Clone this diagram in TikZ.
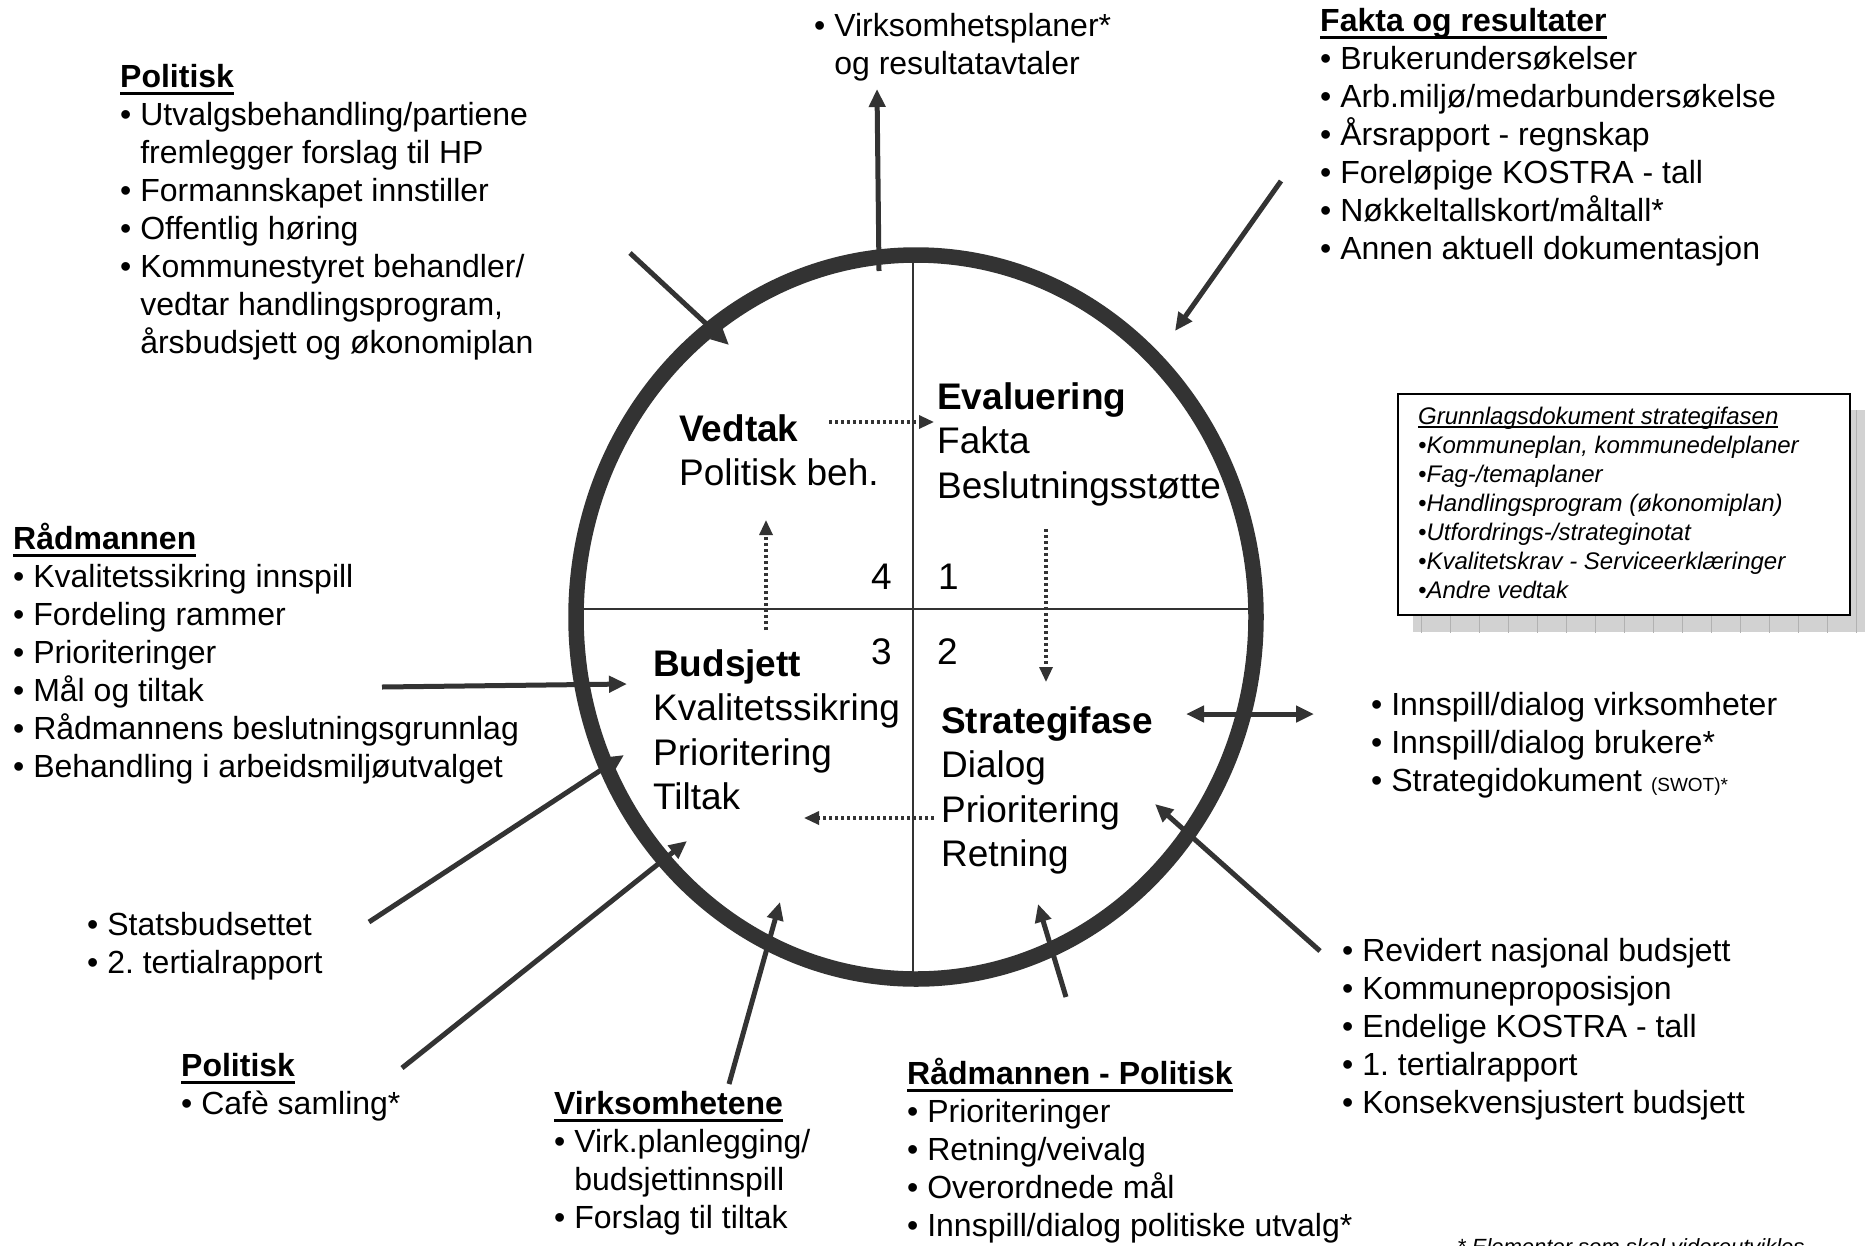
\documentclass[tikz,border=0pt]{standalone}
\usepackage{fontspec}
\setmainfont{Liberation Sans}
\usetikzlibrary{arrows.meta}
\definecolor{dk}{HTML}{333333}
\frenchspacing
\newcommand\myul[1]{\setbox0=\hbox{#1}\leavevmode\rlap{\rule[-7.5pt]{\wd0}{2.6pt}}\box0}
\newcommand\myulthin[1]{\setbox0=\hbox{#1}\leavevmode\rlap{\rule[-3.5pt]{\wd0}{1.3pt}}\box0}
\newcommand\bul{•\ }
\newcommand\indt{\hphantom{•\ }}
\begin{document}
\begin{tikzpicture}[x=1pt,y=-1pt,
  txt/.style={anchor=base west, align=left, inner sep=0pt, font=\fontsize{32}{38}\selectfont},
  big/.style={anchor=base west, align=left, inner sep=0pt, font=\fontsize{37}{44.5}\selectfont},
  arr/.style={draw=dk, line width=5pt, -{Triangle[length=18pt,width=16pt]}},
  dblarr/.style={draw=dk, line width=5pt, {Triangle[length=18pt,width=16pt]}-{Triangle[length=18pt,width=16pt]}},
  dotarr/.style={draw=dk, line width=3.2pt, dash pattern=on 3pt off 3pt, -{Triangle[length=15pt,width=13pt]}},
]
\useasboundingbox (0,0) rectangle (1865,1245);
\fill[white] (0,0) rectangle (1865,1245);

% quadrant lines and circle
\coordinate (vt) at (913,250);
\coordinate (vb) at (913,982);
\coordinate (hl) at (575,609);
\coordinate (hr) at (1258,609);
\draw[dk, line width=2pt] (vt) -- (vb);
\draw[dk, line width=2pt] (hl) -- (hr);
\draw[dk, line width=15.5pt] (916,617) ellipse [x radius=340pt, y radius=362pt];

% circle labels (anchor = baseline of last line)
\node[big] (vedtak) at (679,485.5) {\textbf{Vedtak}\\Politisk beh.};
\node[big] (eval) at (937,498) {\textbf{Evaluering}\\Fakta\\Beslutningsstøtte};
\node[big] (budsj) at (653,809.5) {\textbf{Budsjett}\\Kvalitetssikring\\Prioritering\\Tiltak};
\node[big] (strat) at (941,866.5) {\textbf{Strategifase}\\Dialog\\Prioritering\\Retning};
\node[big, anchor=base east] (n4) at (892,589) {4};
\node[big] (n1) at (938,589) {1};
\node[big, anchor=base east] (n3) at (892,664) {3};
\node[big] (n2) at (937,664) {2};

% outside text blocks (anchor = baseline of last line)
\node[txt] (pol1) at (120,353) {\textbf{\myul{Politisk}}\\\bul Utvalgsbehandling/partiene\\\indt fremlegger forslag til HP\\\bul Formannskapet innstiller\\\bul Offentlig høring\\\bul Kommunestyret behandler/\\\indt vedtar handlingsprogram,\\\indt årsbudsjett og økonomiplan};
\node[txt] (virk) at (814,74) {\bul Virksomhetsplaner*\\\indt og resultatavtaler};
\node[txt] (fakta) at (1320,259) {\textbf{\myul{Fakta og resultater}}\\\bul Brukerundersøkelser\\\bul Arb.miljø/medarbundersøkelse\\\bul Årsrapport - regnskap\\\bul Foreløpige KOSTRA - tall\\\bul Nøkkeltallskort/måltall*\\\bul Annen aktuell dokumentasjon};
\node[txt] (radm) at (13,777) {\textbf{\myul{Rådmannen}}\\\bul Kvalitetssikring innspill\\\bul Fordeling rammer\\\bul Prioriteringer\\\bul Mål og tiltak\\\bul Rådmannens beslutningsgrunnlag\\\bul Behandling i arbeidsmiljøutvalget};
\node[txt] (stats) at (87,973) {\bul Statsbudsettet\\\bul 2. tertialrapport};
\node[txt] (pol2) at (181,1114) {\textbf{\myul{Politisk}}\\\bul Cafè samling*};
\node[txt] (virkh) at (554,1228) {\textbf{\myul{Virksomhetene}}\\\bul Virk.planlegging/\\\indt budsjettinnspill\\\bul Forslag til tiltak};
\node[txt] (radpol) at (907,1236) {\textbf{\myul{Rådmannen - Politisk}}\\\bul Prioriteringer\\\bul Retning/veivalg\\\bul Overordnede mål\\\bul Innspill/dialog politiske utvalg*};
\node[txt] (rev) at (1342,1113) {\bul Revidert nasjonal budsjett\\\bul Kommuneproposisjon\\\bul Endelige KOSTRA - tall\\\bul 1. tertialrapport\\\bul Konsekvensjustert budsjett};
\node[txt] (innsp) at (1371,791) {\bul Innspill/dialog virksomheter\\\bul Innspill/dialog brukere*\\\bul Strategidokument {\fontsize{19}{19}\selectfont (SWOT)*}};
\node[anchor=base west, inner sep=0pt, font=\fontsize{22}{26}\selectfont\itshape] (foot) at (1457,1254) {* Elementer som skal videreutvikles};

% document box with shadow
\fill[gray!35] (1413,410) rectangle (1865,632);
\begin{scope}
\clip (1413,410) rectangle (1865,632);
\draw[gray!60, line width=1pt, step=29] (1392,400) grid (1865,640);
\end{scope}
\draw[black, line width=2pt, fill=white] (1398,394) rectangle (1850,615);
\node[anchor=base west, align=left, inner sep=0pt, font=\fontsize{24}{29}\selectfont\itshape] (grunn) at (1418,598) {\myulthin{Grunnlagsdokument strategifasen}\\•Kommuneplan, kommunedelplaner\\•Fag-/temaplaner\\•Handlingsprogram (økonomiplan)\\•Utfordrings-/strateginotat\\•Kvalitetskrav - Serviceerklæringer\\•Andre vedtak};

% solid arrows
\coordinate (a1s) at (879,271); \coordinate (a1e) at (877,89);
\coordinate (a2s) at (630,253); \coordinate (a2e) at (729,345);
\coordinate (a3s) at (1281,181); \coordinate (a3e) at (1175,331);
\coordinate (a4s) at (382,687); \coordinate (a4e) at (627,684);
\coordinate (a5s) at (369,922); \coordinate (a5e) at (624,755);
\coordinate (a6s) at (402,1068); \coordinate (a6e) at (687,841);
\coordinate (a7s) at (729,1084); \coordinate (a7e) at (780,902);
\coordinate (a8s) at (1066,997); \coordinate (a8e) at (1038,904);
\coordinate (a9s) at (1320,951); \coordinate (a9e) at (1155,804);
\coordinate (a10s) at (1186,714); \coordinate (a10e) at (1314,714);
\draw[arr] (a1s) -- (a1e);
\draw[arr] (a2s) -- (a2e);
\draw[arr] (a3s) -- (a3e);
\draw[arr] (a4s) -- (a4e);
\draw[arr] (a5s) -- (a5e);
\draw[arr] (a6s) -- (a6e);
\draw[arr] (a7s) -- (a7e);
\draw[arr] (a8s) -- (a8e);
\draw[arr] (a9s) -- (a9e);
\draw[dblarr] (a10s) -- (a10e);

% dotted arrows
\coordinate (d1s) at (829,422); \coordinate (d1e) at (934,422);
\coordinate (d2s) at (1046,529); \coordinate (d2e) at (1046,682);
\coordinate (d3s) at (934,818); \coordinate (d3e) at (804,818);
\coordinate (d4s) at (766,630); \coordinate (d4e) at (766,520);
\draw[dotarr] (d1s) -- (d1e);
\draw[dotarr] (d2s) -- (d2e);
\draw[dotarr] (d3s) -- (d3e);
\draw[dotarr] (d4s) -- (d4e);
\end{tikzpicture}
\end{document}
